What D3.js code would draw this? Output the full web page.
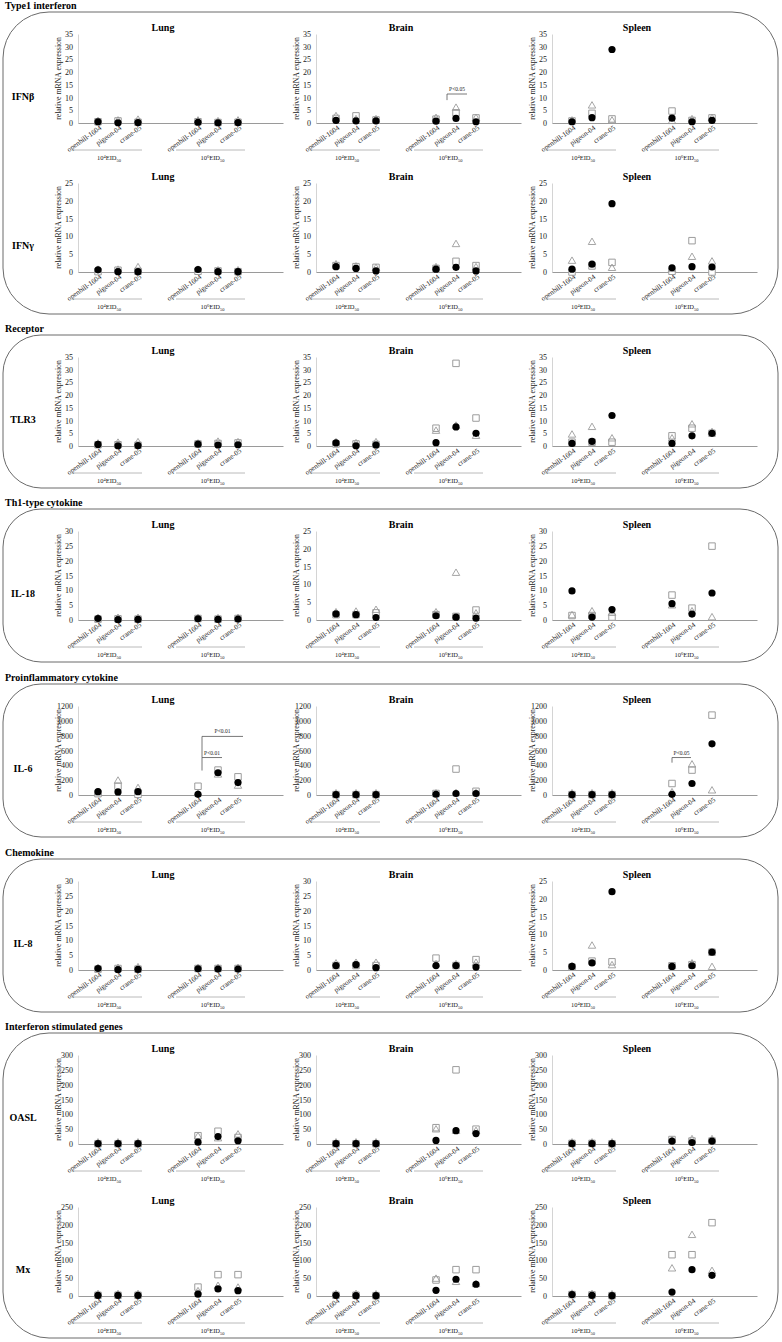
<!DOCTYPE html>
<html><head><meta charset="utf-8">
<script src="https://cdn.jsdelivr.net/npm/d3@7"></script>
<style>
body{margin:0;background:#fff}
svg{display:block}
text{font-family:"Liberation Serif","Times New Roman",serif}
</style>
</head><body>
<script>
// ---- data ----
var tissues = ["Lung", "Brain", "Spleen"];
var strains = ["openbill-1604", "pigeon-04", "crane-05"];
var doseExp = ["4", "6"];
var genes = ["IFNβ", "IFNγ", "TLR3", "IL-18", "IL-6", "IL-8", "OASL", "Mx"];
var sectionNames = ["Type1 interferon", "Receptor", "Th1-type cytokine", "Proinflammatory cytokine", "Chemokine", "Interferon stimulated genes"];
var sectionRows = [[0, 1], [2], [3], [4], [5], [6, 7]];

// y axis maximum and step per gene, per tissue
var yMax = [[35, 35, 35], [25, 25, 25], [35, 35, 35], [30, 25, 30], [1200, 1200, 1200], [30, 30, 25], [300, 300, 300], [250, 250, 250]];
var yStep = [5, 5, 5, 5, 200, 5, 50, 50];

// each series: [Lung, Brain, Spleen], 6 values = 3 strains x 2 doses
var IFNb = {
  circle:   [[0.5, 0.1, 0.2, 0.3, 0.1, 0.2], [1.0, 0.8, 0.8, 0.7, 1.8, 0.5], [0.5, 2.1, 28.9, 1.9, 0.5, 1.0]],
  square:   [[0.5, 0.8, 0.3, 0.5, 0.2, 0.3], [1.8, 2.8, 1.2, 1.5, 4.0, 2.0], [0.8, 3.8, 1.6, 4.7, 1.0, 2.0]],
  triangle: [[0.3, 0.5, 0.8, 0.5, 0.2, 0.5], [2.2, 1.0, 1.0, 1.5, 5.5, 1.5], [0.5, 6.4, 0.5, 0.3, 1.0, 1.5]]
};
var IFNg = {
  circle:   [[0.6, 0.1, 0.1, 0.7, 0.1, 0.1], [1.5, 1.0, 0.3, 0.8, 1.3, 0.3], [0.8, 2.2, 19.2, 1.2, 1.5, 1.4]],
  square:   [[0.1, 0.5, 0.2, 0.2, 0.3, 0.1], [1.8, 1.5, 1.3, 1.0, 3.0, 1.8], [0.0, 1.7, 2.7, 0.2, 8.8, 0.0]],
  triangle: [[0.3, 0.3, 1.0, 0.3, 0.1, 0.1], [1.8, 1.2, 0.8, 1.0, 7.5, 1.0], [2.8, 8.1, 0.8, 0.5, 3.9, 2.6]]
};
var TLR3 = {
  circle:   [[0.6, 0.1, 0.2, 0.7, 0.4, 0.5], [1.2, 0.1, 0.4, 1.3, 7.5, 5.0], [1.0, 1.8, 12.0, 1.0, 4.0, 5.0]],
  square:   [[0.5, 0.5, 0.3, 0.8, 1.0, 1.2], [0.8, 0.8, 0.6, 7.0, 32.5, 11.0], [1.5, 1.5, 1.5, 4.0, 7.0, 5.0]],
  triangle: [[0.5, 0.8, 1.0, 0.5, 1.2, 1.0], [1.0, 0.6, 1.0, 5.5, 7.5, 3.5], [4.0, 7.0, 2.5, 2.5, 8.0, 5.0]]
};
var IL18 = {
  circle:   [[0.5, 0.1, 0.2, 0.4, 0.2, 0.3], [1.7, 1.5, 0.7, 1.2, 0.8, 0.5], [9.8, 1.0, 3.5, 5.5, 2.0, 9.1]],
  square:   [[0.3, 0.4, 0.3, 0.5, 0.3, 0.5], [1.5, 1.5, 2.0, 1.5, 1.0, 2.8], [1.5, 1.5, 1.0, 8.4, 4.0, 24.9]],
  triangle: [[0.3, 0.3, 0.3, 0.3, 0.2, 0.3], [1.8, 2.0, 2.5, 1.8, 12.9, 1.5], [1.2, 2.5, 2.0, 4.5, 2.5, 0.5]]
};
var IL6 = {
  circle:   [[45, 41, 45, 9, 300, 168], [5, 5, 5, 10, 20, 20], [5, 5, 5, 9, 155, 690]],
  square:   [[18, 118, 9, 118, 336, 245], [5, 5, 5, 20, 350, 50], [5, 5, 5, 155, 336, 1077]],
  triangle: [[20, 177, 77, 5, 259, 109], [5, 5, 5, 5, 10, 10], [5, 5, 5, 20, 395, 45]]
};
var IL8 = {
  circle:   [[0.5, 0.1, 0.2, 0.4, 0.3, 0.3], [1.5, 1.8, 0.8, 1.5, 1.5, 1.0], [1.0, 2.0, 22.0, 1.0, 1.2, 5.0]],
  square:   [[0.3, 0.5, 0.3, 0.5, 0.5, 0.5], [1.5, 1.5, 1.5, 4.0, 1.5, 3.5], [0.8, 2.5, 2.3, 1.2, 1.5, 5.0]],
  triangle: [[0.3, 0.3, 0.5, 0.3, 0.3, 0.3], [1.8, 2.0, 2.0, 1.5, 1.5, 2.0], [0.7, 6.5, 1.0, 0.8, 1.5, 0.5]]
};
var OASL = {
  circle:   [[1, 1, 1, 6, 25, 11], [1, 1, 1, 12, 45, 35], [1, 1, 1, 10, 5, 10]],
  square:   [[1, 1, 1, 28, 43, 22], [1, 1, 1, 55, 250, 50], [2, 2, 1, 15, 10, 10]],
  triangle: [[1, 1, 1, 22, 15, 28], [1, 1, 1, 45, 40, 40], [1, 1, 1, 8, 12, 12]]
};
var Mx = {
  circle:   [[2, 2, 2, 5, 20, 15], [2, 1, 1, 16, 47, 33], [4, 2, 1, 11, 74, 58]],
  square:   [[2, 2, 2, 25, 60, 60], [2, 2, 1, 45, 74, 74], [4, 3, 1, 116, 116, 206]],
  triangle: [[2, 2, 2, 10, 25, 20], [2, 2, 1, 45, 36, 30], [3, 2, 1, 74, 168, 67]]
};
var geneData = [IFNb, IFNg, TLR3, IL18, IL6, IL8, OASL, Mx];

// significance brackets: gene, tissue, x from/to (category units), line level, drop level
var brackets = [
  { gene: 0, tissue: 1, x1: 6.55, x2: 7.55, y: 11.4, drop: 9, label: "P<0.05" },
  { gene: 4, tissue: 0, x1: 6.2, x2: 8.25, y: 790, drop: 505, label: "P<0.01" },
  { gene: 4, tissue: 0, x1: 6.2, x2: 7.2, y: 505, drop: 330, label: "P<0.01" },
  { gene: 4, tissue: 2, x1: 6.0, x2: 6.95, y: 505, drop: 436, label: "P<0.05" }
];

// ---- layout ----
var W = 782, H = 1342;
var rowTitleY = [27, 176, 350, 524, 699, 874, 1048, 1200];
var panelX = [78, 316, 552];
var catPos = [1, 2, 3, 6, 7, 8];

var svg = d3.select("body").append("svg").attr("width", W).attr("height", H);
svg.append("rect").attr("width", W).attr("height", H).attr("fill", "#fff");

/*************************** section boxes ***************************/
sectionNames.forEach(function(name, s){
  var rows = sectionRows[s];
  var top = rowTitleY[rows[0]] - 15;
  var bottom = rowTitleY[rows[rows.length - 1]] + 138;
  var r = rows.length > 1 ? 46 : 38;
  svg.append("rect")
    .attr("x", 3).attr("y", top).attr("width", 775).attr("height", bottom - top)
    .attr("rx", r).attr("ry", r)
    .attr("fill", "none").attr("stroke", "#6b6b6b").attr("stroke-width", 1);
  svg.append("text").attr("x", 5).attr("y", top - 3.5)
    .attr("font-size", 10).attr("font-weight", "bold").attr("fill", "#000").text(name);
});

/*************************** panels ***************************/
var sq = d3.symbol().type(d3.symbolSquare).size(42);
var tri = d3.symbol().type(d3.symbolTriangle).size(24);

genes.forEach(function(gene, gi){
  var T = rowTitleY[gi];
  var y0 = T + 96, y1 = T + 7;

  svg.append("text").attr("x", 23).attr("y", T + 73)
    .attr("text-anchor", "middle").attr("font-size", 10).attr("font-weight", "bold").attr("fill", "#000").text(gene);

  tissues.forEach(function(tissue, ti){
    var x0 = panelX[ti];
    var x = d3.scaleLinear().domain([0, 10]).range([x0, x0 + 200]);
    var y = d3.scaleLinear().domain([0, yMax[gi][ti]]).range([y0, y1]);
    var g = svg.append("g");

    g.append("text").attr("x", x0 + 85).attr("y", T + 3.5)
      .attr("text-anchor", "middle").attr("font-size", 10).attr("font-weight", "bold").attr("fill", "#000").text(tissue);

    var yAxis = g.append("g").attr("transform", "translate(" + x0 + ",0)")
      .call(d3.axisLeft(y).tickValues(d3.range(0, yMax[gi][ti] + 0.1, yStep[gi]))
        .tickFormat(d3.format("d")).tickSize(0).tickPadding(5));
    yAxis.select(".domain").attr("stroke", "#d4d4d4");
    yAxis.selectAll("text").attr("font-size", 8).attr("font-family", "'Liberation Serif', serif").attr("fill", "#222");

    var xLine = x.copy().domain([0, 10.25]).range([x0, x0 + 205]);
    var xAxis = g.append("g").attr("transform", "translate(0," + y0 + ")")
      .call(d3.axisBottom(xLine).tickValues([]).tickSizeOuter(0));
    xAxis.select(".domain").attr("stroke", "#9a9a9a");

    g.append("text")
      .attr("transform", "translate(" + (x0 - 20) + "," + ((y0 + y1) / 2) + ") rotate(-90)")
      .attr("text-anchor", "middle").attr("dy", "0.32em").attr("font-size", 7.8).attr("fill", "#222")
      .text("relative mRNA expression");

    // category labels
    catPos.forEach(function(c, k){
      g.append("text")
        .attr("transform", "translate(" + (x(c) + 4) + "," + (y0 + 6) + ") rotate(-35)")
        .attr("text-anchor", "end").attr("font-size", 7.2).attr("fill", "#222")
        .text(strains[k % 3]);
    });

    // dose group lines and labels
    doseExp.forEach(function(e, d){
      var a = x(d === 0 ? -0.3 : 4.9), b = x(d === 0 ? 3.2 : 8.35);
      g.append("line").attr("x1", a).attr("x2", b).attr("y1", T + 123).attr("y2", T + 123)
        .attr("stroke", "#a8a8a8").attr("stroke-width", 0.8);
      var t = g.append("text").attr("x", (a + b) / 2 + 2).attr("y", T + 133)
        .attr("text-anchor", "middle").attr("font-size", 6.5).attr("fill", "#222");
      t.append("tspan").text("10");
      t.append("tspan").attr("dy", -2.5).attr("font-size", 4.5).text(e);
      t.append("tspan").attr("dy", 2.5).text("EID");
      t.append("tspan").attr("dy", 1.8).attr("font-size", 4.5).text("50");
    });

    var data = geneData[gi];
    var pts = function(arr){ return arr[ti].map(function(v, k){ return { x: catPos[k], v: v }; }); };

    g.selectAll(".sq").data(pts(data.square)).enter().append("path")
      .attr("d", sq).attr("transform", function(d){ return "translate(" + x(d.x) + "," + y(d.v) + ")"; })
      .attr("fill", "#fff").attr("stroke", "#9c9c9c").attr("stroke-width", 1);
    g.selectAll(".tri").data(pts(data.triangle)).enter().append("path")
      .attr("d", tri).attr("transform", function(d){ return "translate(" + x(d.x) + "," + (y(d.v) - 0.8) + ")"; })
      .attr("fill", "none").attr("stroke", "#9c9c9c").attr("stroke-width", 0.9);
    g.selectAll(".ci").data(pts(data.circle)).enter().append("circle")
      .attr("cx", function(d){ return x(d.x); }).attr("cy", function(d){ return y(d.v); })
      .attr("r", 3.6).attr("fill", "#000");

    brackets.filter(function(b){ return b.gene === gi && b.tissue === ti; }).forEach(function(b){
      g.append("path")
        .attr("d", "M" + x(b.x1) + "," + y(b.drop) + "V" + y(b.y) + "H" + x(b.x2))
        .attr("fill", "none").attr("stroke", "#555").attr("stroke-width", 0.8);
      g.append("text").attr("x", (x(b.x1) + x(b.x2)) / 2).attr("y", y(b.y) - 3)
        .attr("text-anchor", "middle").attr("font-size", 5.5).attr("fill", "#222").text(b.label);
    });
  });
});
</script>
</body></html>
